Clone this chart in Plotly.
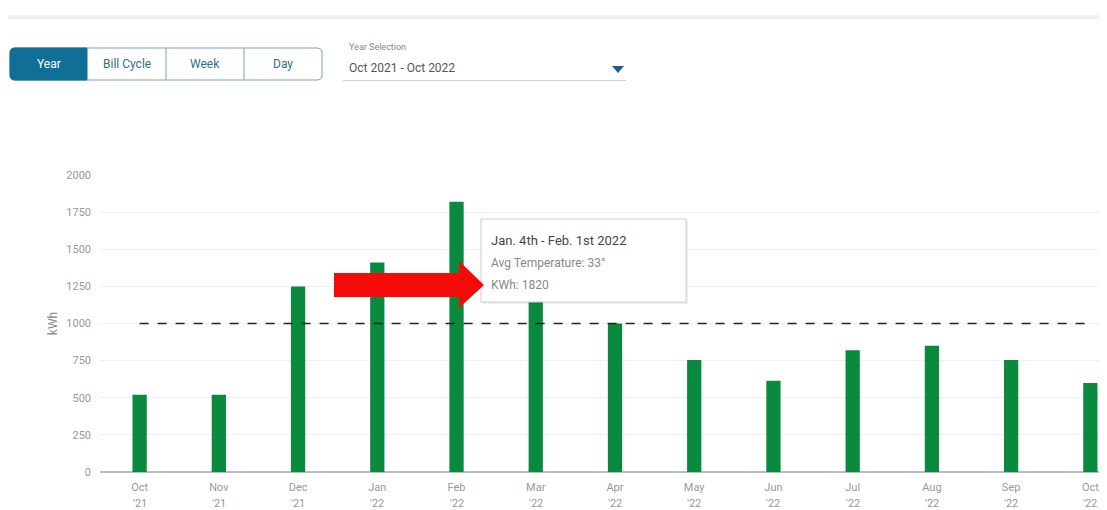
import plotly.graph_objects as go

months = ["Oct", "Nov", "Dec", "Jan", "Feb", "Mar", "Apr", "May", "Jun", "Jul", "Aug", "Sep", "Oct"]
years = ["'21", "'21", "'21", "'22", "'22", "'22", "'22", "'22", "'22", "'22", "'22", "'22", "'22"]
kwh = [520, 520, 1250, 1410, 1820, 1200, 1000, 755, 615, 820, 850, 755, 600]
average_line = 1000
y_ticks = [0, 250, 500, 750, 1000, 1250, 1500, 1750, 2000]

cats = [f"{m} {y}" for m, y in zip(months, years)]

FONT = "Roboto, Arial"
OFF = 8  # page body margin
FIG_W, FIG_H = 1107 - OFF, 510 - OFF
L, T, W, H = 100 - OFF, 175 - OFF, 1007, 297


def px(x):
    return (x - OFF - L) / W


def py(y):
    return (T + H - (y - OFF)) / H


fig = go.Figure()
fig.add_trace(go.Bar(x=cats, y=kwh, width=0.18, marker=dict(color="#0a8a3f", line=dict(width=0)),
                     hoverinfo="skip"))
fig.add_trace(go.Scatter(x=cats, y=[average_line] * len(cats), mode="lines",
                         line=dict(color="#222", width=1.5, dash="dash"), hoverinfo="skip"))

shapes = []
annotations = []

# x labels: month line (ticks) + year line (annotations)
for c, y in zip(cats, years):
    annotations.append(dict(text=y, xref="x", yref="paper", x=c, y=py(496), showarrow=False,
                            xanchor="center", yanchor="top", borderpad=0,
                            font=dict(family=FONT, size=11, color="#999")))

# top separator
shapes.append(dict(type="rect", xref="paper", yref="paper", x0=px(7), x1=px(1107), y0=py(15), y1=py(19),
                   fillcolor="#f1f1f1", line=dict(width=0), layer="above"))


def rounded(x0, y0, x1, y1, r, left=True, right=True):
    rx = r / W
    ry = r / H
    X0, X1, Y0, Y1 = px(x0), px(x1), py(y1), py(y0)
    parts = []
    if left:
        parts.append(f"M {X0 + rx},{Y1}")
    else:
        parts.append(f"M {X0},{Y1}")
    if right:
        parts.append(f"L {X1 - rx},{Y1} Q {X1},{Y1} {X1},{Y1 - ry} L {X1},{Y0 + ry} Q {X1},{Y0} {X1 - rx},{Y0}")
    else:
        parts.append(f"L {X1},{Y1} L {X1},{Y0}")
    if left:
        parts.append(f"L {X0 + rx},{Y0} Q {X0},{Y0} {X0},{Y0 + ry} L {X0},{Y1 - ry} Q {X0},{Y1} {X0 + rx},{Y1} Z")
    else:
        parts.append(f"L {X0},{Y0} Z")
    return " ".join(parts)


# segmented control
shapes.append(dict(type="path", xref="paper", yref="paper", path=rounded(10, 48, 322, 80, 5),
                   fillcolor="white", line=dict(color="#7aa5b8", width=1), layer="above"))
shapes.append(dict(type="path", xref="paper", yref="paper", path=rounded(10, 48, 87, 80, 5, right=False),
                   fillcolor="#0f6f96", line=dict(color="#0f6f96", width=1), layer="above"))
for xd in [166, 244]:
    shapes.append(dict(type="line", xref="paper", yref="paper", x0=px(xd), x1=px(xd), y0=py(48), y1=py(80),
                       line=dict(color="#7aa5b8", width=1), layer="above"))
for label, xc, col in [("Year", 48.5, "white"), ("Bill Cycle", 126.5, "#2f6f8d"),
                       ("Week", 205, "#2f6f8d"), ("Day", 283, "#2f6f8d")]:
    annotations.append(dict(text=label, xref="paper", yref="paper", x=px(xc), y=py(64), showarrow=False,
                            xanchor="center", yanchor="middle", font=dict(family=FONT, size=12, color=col)))

# year selection
annotations.append(dict(text="Year Selection", xref="paper", yref="paper", x=px(347), y=py(47), showarrow=False,
                        xanchor="left", yanchor="middle", font=dict(family=FONT, size=9, color="#888")))
annotations.append(dict(text="Oct 2021 - Oct 2022", xref="paper", yref="paper", x=px(347), y=py(68),
                        showarrow=False, xanchor="left", yanchor="middle",
                        font=dict(family=FONT, size=12, color="#555")))
shapes.append(dict(type="line", xref="paper", yref="paper", x0=px(343), x1=px(626), y0=py(80.5), y1=py(80.5),
                   line=dict(color="#cfcfcf", width=1), layer="above"))
shapes.append(dict(type="path", xref="paper", yref="paper",
                   path=f"M {px(612)},{py(66)} L {px(624)},{py(66)} L {px(618)},{py(73)} Z",
                   fillcolor="#1f5f86", line=dict(width=0), layer="above"))

# tooltip
shapes.append(dict(type="rect", xref="paper", yref="paper", x0=px(482), x1=px(688), y0=py(304), y1=py(220),
                   fillcolor="rgba(0,0,0,0.06)", line=dict(width=0), layer="above"))
shapes.append(dict(type="rect", xref="paper", yref="paper", x0=px(481), x1=px(686), y0=py(302), y1=py(219),
                   fillcolor="white", line=dict(color="#c9ced2", width=1), layer="above"))
annotations.append(dict(text="Jan. 4th - Feb. 1st 2022", xref="paper", yref="paper", x=px(489), y=py(240),
                        showarrow=False, xanchor="left", yanchor="middle",
                        font=dict(family=FONT, size=13, color="#444")))
annotations.append(dict(text="Avg Temperature: 33°", xref="paper", yref="paper", x=px(489), y=py(263),
                        showarrow=False, xanchor="left", yanchor="middle",
                        font=dict(family=FONT, size=12, color="#888")))
annotations.append(dict(text="KWh: 1820", xref="paper", yref="paper", x=px(489), y=py(285),
                        showarrow=False, xanchor="left", yanchor="middle",
                        font=dict(family=FONT, size=12, color="#888")))

# red arrow
arrow = [(334, 273), (459, 273), (459, 261), (484, 285), (459, 308), (459, 297), (334, 297)]
path = "M " + " L ".join(f"{px(a)},{py(b)}" for a, b in arrow) + " Z"
shapes.append(dict(type="path", xref="paper", yref="paper", path=path, fillcolor="#f50a0a",
                   line=dict(width=0), layer="above"))

fig.update_layout(
    width=FIG_W, height=FIG_H,
    margin=dict(l=L, r=0, t=T, b=FIG_H - T - H),
    paper_bgcolor="white", plot_bgcolor="white",
    showlegend=False,
    font=dict(family=FONT, size=11, color="#999"),
    xaxis=dict(type="category", range=[-0.5, 12.21], showgrid=False, showline=False, ticks="",
               tickvals=cats, ticktext=months, ticklabelstandoff=7,
               tickfont=dict(family=FONT, size=11, color="#999"), zeroline=False, fixedrange=True),
    yaxis=dict(range=[0, 2000], tickvals=y_ticks, showgrid=True, gridcolor="#efefef", gridwidth=1,
               zeroline=True, zerolinecolor="#bdbdbd", zerolinewidth=2, ticks="", ticklabelstandoff=8,
               tickfont=dict(family=FONT, size=11, color="#999"),
               title=dict(text="kWh", font=dict(family=FONT, size=12, color="#888"), standoff=6)),
    shapes=shapes,
    annotations=annotations,
)

fig.write_html("out.html")
